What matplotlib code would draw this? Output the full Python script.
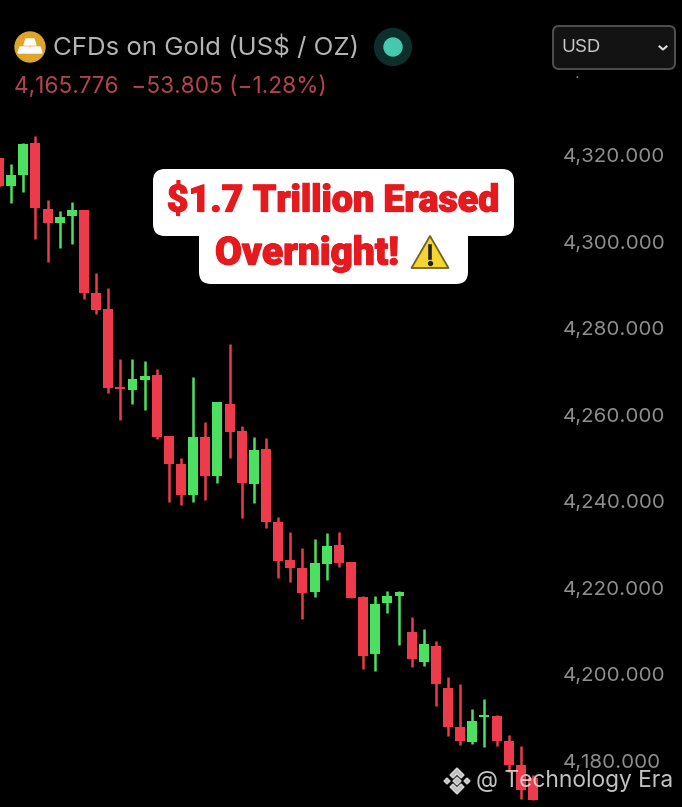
import matplotlib
matplotlib.use("Agg")
import matplotlib.pyplot as plt
import matplotlib.patheffects as pe
from matplotlib.patches import Circle, FancyBboxPatch, Polygon, Rectangle
import numpy as np

# prices, oldest candle first
opens = [4319.3, 4312.8, 4315.4, 4322.8, 4307.5, 4304.3, 4305.9, 4307.3, 4288.1, 4284.4,
         4266.4, 4265.7, 4268.0, 4269.2, 4255.1, 4248.6, 4241.5, 4254.9, 4245.8, 4262.5,
         4256.2, 4244.0, 4252.1, 4235.2, 4226.4, 4224.6, 4219.1, 4225.5, 4229.9, 4226.0,
         4217.9, 4204.7, 4216.5, 4218.1, 4209.8, 4202.9, 4206.6, 4196.9, 4187.9, 4184.4,
         4190.2, 4190.4, 4184.6, 4179.1, 4176.1]
closes = [4312.8, 4315.4, 4322.5, 4307.8, 4304.3, 4305.7, 4307.3, 4288.1, 4284.2, 4266.2,
          4265.9, 4268.3, 4269.0, 4254.9, 4248.6, 4241.5, 4254.9, 4245.8, 4262.9, 4256.0,
          4244.2, 4251.9, 4235.2, 4226.2, 4224.6, 4218.8, 4225.8, 4229.7, 4225.8, 4217.7,
          4204.3, 4216.3, 4218.1, 4219.1, 4203.6, 4207.0, 4197.8, 4187.9, 4184.6, 4189.3,
          4190.6, 4184.6, 4179.1, 4173.3, 4171.0]
highs = [4319.3, 4317.9, 4322.8, 4324.4, 4309.6, 4307.1, 4309.1, 4307.3, 4292.7, 4289.3,
         4272.9, 4272.9, 4272.4, 4270.6, 4255.1, 4250.0, 4268.7, 4258.3, 4262.9, 4276.3,
         4257.4, 4254.9, 4254.6, 4236.4, 4232.9, 4229.2, 4231.3, 4232.7, 4232.9, 4226.0,
         4218.1, 4218.1, 4219.3, 4219.3, 4213.3, 4210.5, 4207.7, 4199.4, 4197.8, 4192.0,
         4194.3, 4190.6, 4186.0, 4183.5, 4176.8]
lows = [4312.6, 4308.9, 4311.5, 4300.6, 4295.3, 4298.5, 4299.4, 4286.7, 4283.3, 4265.0,
        4258.8, 4262.5, 4261.1, 4254.4, 4239.8, 4239.2, 4239.8, 4240.3, 4244.2, 4250.0,
        4236.1, 4239.6, 4233.8, 4222.3, 4221.4, 4212.8, 4217.9, 4221.8, 4224.8, 4217.7,
        4201.3, 4200.8, 4214.2, 4206.8, 4201.7, 4202.0, 4192.7, 4185.8, 4183.7, 4183.9,
        4183.2, 4183.5, 4177.5, 4171.2, 4171.0]
price_ticks = [4180, 4200, 4220, 4240, 4260, 4280, 4300, 4320, 4340]

title = "CFDs on Gold (US$ / OZ)"
quote = "4,165.776  \u221253.805 (\u22121.28%)"
currency = "USD"
banner_lines = ["$1.7 Trillion Erased", "Overnight!"]
watermark = "@ Technology Era"

RED = "#ED3B4C"
GREEN = "#4CE060"
BANNER_RED = "#E51A1E"

plt.rcParams["font.family"] = ["Inter", "DejaVu Sans"]

fig = plt.figure(figsize=(6.82, 8.07), dpi=100, facecolor="black")

# chart area runs the full height, the scale sits to the right of it
ax = fig.add_axes([0, 0, 553 / 682, 1], facecolor="black")
idx = np.arange(len(opens))
o = np.array(opens)
c = np.array(closes)
colors = [GREEN if c[i] > o[i] else RED for i in idx]

ax.vlines(idx, lows, highs, colors=colors, linewidth=1.8, zorder=2)
ax.bar(idx, np.abs(c - o), bottom=np.minimum(o, c), width=0.82, color=colors, zorder=3)

ax.set_xlim(0.082, 45.65)
ax.set_ylim(4169.39, 4355.8)
ax.xaxis.set_visible(False)
ax.yaxis.tick_right()
ax.set_yticks(price_ticks)
ax.set_yticklabels([f"{p:,.3f}" for p in price_ticks], fontsize=14.8, color="#8E8E8E")
ax.tick_params(axis="y", length=0, pad=7)
for s in ax.spines.values():
    s.set_visible(False)

# overlay in picture pixels for the header, banner and watermark
ov = fig.add_axes([0, 0, 1, 1], zorder=5)
ov.set_xlim(0, 682)
ov.set_ylim(807, 0)
ov.axis("off")
ov.patch.set_alpha(0)

ov.add_patch(Rectangle((0, 0), 682, 75, color="black", zorder=1))

# gold coin icon
ov.add_patch(Circle((30, 47), 15, color="#DFA52B", zorder=2))
ov.add_patch(Polygon([(26, 39), (34, 39), (36, 45), (24, 45)], color="white", zorder=3))
ov.add_patch(Polygon([(20, 47), (29, 47), (30, 53), (18, 53)], color="white", zorder=3))
ov.add_patch(Polygon([(31, 47), (40, 47), (42, 53), (30, 53)], color="white", zorder=3))

ov.text(53, 47.5, title, fontsize=18.6, color="#B4B4B6", va="center", ha="left", zorder=3)
ov.text(14, 87, quote, fontsize=16.3, color="#B5434D", va="center", ha="left", zorder=3)

ov.add_patch(Circle((393, 47), 18.5, color="#0E2E2B", zorder=2))
ov.add_patch(Circle((393, 47), 9, color="#45C9AE", zorder=3))

# currency selector
ov.add_patch(FancyBboxPatch((556, 29), 116, 37, boxstyle="round,pad=3,rounding_size=6",
                            facecolor="#131313", edgecolor="#505050", linewidth=1.4, zorder=2))
ov.text(561, 47.5, currency, fontsize=13.5, color="#C8C8C8", va="center", ha="left", zorder=3)
ov.plot([659.5, 663, 666.5], [46.5, 49.5, 46.5], color="#DDDDDD", lw=1.5, zorder=3)

# white banner, two overlapping rounded boxes
ov.add_patch(FancyBboxPatch((163, 179), 341, 47, boxstyle="round,pad=10,rounding_size=12",
                            facecolor="white", edgecolor="none", zorder=6))
ov.add_patch(FancyBboxPatch((209, 215), 249, 59, boxstyle="round,pad=10,rounding_size=12",
                            facecolor="white", edgecolor="none", zorder=6))
stroke = [pe.withStroke(linewidth=0.9, foreground=BANNER_RED)]
ov.text(333, 201, banner_lines[0], fontsize=27, fontweight="black", family=["Roboto"],
        color=BANNER_RED, ha="center", va="center", zorder=7, path_effects=stroke)
ov.text(215, 254, banner_lines[1], fontsize=28, fontweight="black", family=["Roboto"],
        color=BANNER_RED, ha="left", va="center", zorder=7, path_effects=stroke)

# warning sign
ov.add_patch(Polygon([(430, 236), (448.5, 268), (411.5, 268)], closed=True, facecolor="#F6D530",
                     edgecolor="#6E6420", linewidth=1.3, joinstyle="round", zorder=7))
ov.plot([430, 430], [246, 258], color="#222222", lw=2.6, zorder=8)
ov.plot([430], [263], marker="o", ms=2.8, color="#222222", zorder=8)

# watermark with the diamond logo
wm = "#E4E4E4"
ov.add_patch(Polygon([(457, 768), (464, 775), (461, 778), (457, 774), (453, 778), (450, 775)],
                     color=wm, alpha=0.85, zorder=4))
ov.add_patch(Polygon([(457, 794), (464, 787), (461, 784), (457, 788), (453, 784), (450, 787)],
                     color=wm, alpha=0.85, zorder=4))
ov.add_patch(Polygon([(457, 777), (461, 781), (457, 785), (453, 781)], color=wm, alpha=0.85, zorder=4))
ov.add_patch(Polygon([(447, 778), (450, 781), (447, 784), (444, 781)], color=wm, alpha=0.85, zorder=4))
ov.add_patch(Polygon([(467, 778), (470, 781), (467, 784), (464, 781)], color=wm, alpha=0.85, zorder=4))
ov.text(476, 781, watermark, fontsize=16.4, color=wm, alpha=0.85, va="center", ha="left", zorder=4)

fig.savefig("out.png", dpi=100, facecolor="black")
